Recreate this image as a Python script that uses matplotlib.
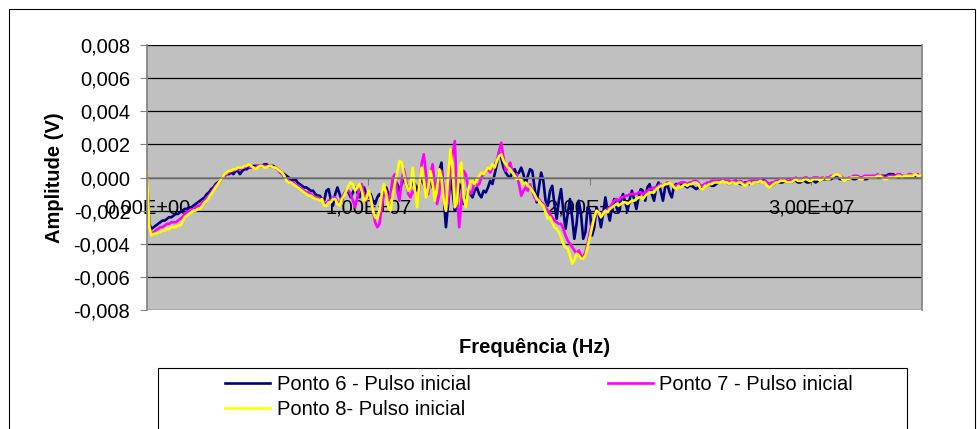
import numpy as np
import matplotlib
matplotlib.use("Agg")
import matplotlib.pyplot as plt
from matplotlib.patches import Rectangle
from matplotlib.ticker import FuncFormatter

plt.rcParams['font.family'] = ['Liberation Sans', 'DejaVu Sans']

# frequency grid: 0 .. 35 MHz, one sample every 0.1 MHz
freq_hz = np.arange(351) * 1e5

# amplitudes, in units of 0.1 mV (1e-4 V)
ponto6 = [
    0, -28, -31, -30, -29, -28, -27, -26, -26, -25,
    -24, -24, -23, -22, -22, -21, -20, -19, -19, -18,
    -18, -17, -16, -15, -14, -13, -12, -10, -9, -7,
    -6, -4, -3, -2, 0, 1, 2, 2, 3, 2,
    4, 4, 2, 4, 5, 5, 6, 6, 7, 7,
    7, 7, 7, 8, 8, 7, 7, 7, 6, 5,
    4, 3, 2, 1, 0, -1, -2, -1, -3, -4,
    -5, -6, -6, -7, -8, -8, -10, -11, -11, -13,
    -14, -8, -7, -13, -17, -10, -6, -10, -14, -10,
    -8, -9, -12, -9, -6, -9, -12, -8, -6, -10,
    -12, -10, -14, -16, -12, -10, -12, -8, -6, -10,
    -12, -6, -2, -4, -8, -4, 0, -4, -8, -6,
    -2, -4, -8, -4, 0, -4, -8, -4, -2, -6,
    -10, -4, 4, 9, -12, -30, -16, 0, -8, -20,
    -18, -4, -6, -16, -14, -8, -10, -12, -8, -6,
    -10, -12, -8, -9, -6, -2, -4, 2, 8, 15,
    12, 6, 3, 1, 0, 3, 5, 2, 3, 6,
    2, -4, 1, 5, 4, -6, -15, -6, 3, -2,
    -14, -17, -8, -5, -16, -25, -14, -7, -20, -31,
    -22, -13, -24, -37, -28, -14, -22, -37, -33, -18,
    -20, -35, -30, -18, -22, -30, -22, -12, -20, -26,
    -18, -13, -18, -21, -14, -10, -15, -20, -13, -8,
    -13, -19, -12, -7, -8, -14, -6, -4, -10, -14,
    -6, -3, -8, -14, -6, -4, -9, -12, -5, -4,
    -4, -5, -4, -5, -6, -5, -5, -6, -7, -6,
    -7, -5, -4, -5, -4, -5, -5, -4, -3, -2,
    -2, -2, -3, -4, -3, -3, -2, -3, -4, -4,
    -3, -3, -4, -3, -2, -3, -3, -2, -1, -2,
    -3, -4, -5, -4, -3, -3, -3, -3, -2, -3,
    -3, -3, -2, -2, -3, -3, -2, -2, -3, -3,
    -2, -2, -3, -2, -2, -1, -1, -1, -1, -1,
    0, 0, 0, -1, -1, -1, -1, -1, 0, -1,
    -1, 0, 0, 0, -1, -1, 0, 0, 0, 0,
    0, 0, 1, 1, 1, 2, 2, 2, 1, 0,
    0, 0, 1, 0, 0, 0, 0, 0, 1, 1,
    1,
]

ponto7 = [
    2, -30, -34, -33, -32, -31, -30, -30, -29, -28,
    -28, -27, -27, -27, -26, -25, -24, -22, -21, -20,
    -20, -19, -18, -17, -17, -15, -14, -12, -11, -9,
    -7, -5, -4, -2, 0, 1, 2, 3, 4, 4,
    5, 5, 5, 6, 6, 7, 7, 6, 6, 6,
    7, 7, 7, 7, 7, 7, 7, 6, 6, 5,
    3, 2, 0, -1, -2, -3, -3, -4, -5, -6,
    -7, -8, -9, -9, -10, -11, -12, -12, -13, -13,
    -15, -16, -14, -14, -12, -12, -15, -16, -12, -10,
    -8, -8, -10, -14, -18, -12, -5, -4, -10, -14,
    -10, -12, -20, -27, -30, -28, -18, -10, -8, -14,
    -10, 0, 2, -8, -14, -2, 5, -2, -10, -12,
    -8, -10, -15, -6, 8, 14, 2, -10, 2, 8,
    -4, -16, -10, 4, -6, -20, -14, 2, 14, 22,
    -10, -30, -14, 4, 2, -6, -10, -8, -2, -5,
    -4, 0, 2, 4, 5, 3, 6, 8, 10, 16,
    21, 12, 4, 6, 9, 4, 0, 2, -4, -11,
    -8, -6, -8, -4, -8, -12, -14, -13, -15, -16,
    -18, -20, -22, -24, -26, -27, -28, -28, -31, -35,
    -38, -40, -42, -44, -46, -44, -47, -48, -45, -40,
    -33, -28, -24, -22, -22, -23, -21, -20, -19, -18,
    -16, -14, -13, -14, -12, -12, -11, -11, -10, -10,
    -10, -10, -9, -9, -10, -9, -8, -7, -7, -6,
    -6, -5, -4, -5, -4, -3, -3, -4, -5, -5,
    -4, -3, -3, -3, -4, -3, -3, -2, -2, -3,
    -5, -5, -4, -3, -3, -2, -2, -2, -2, -2,
    -1, -2, -2, -2, -3, -2, -2, -3, -2, -3,
    -4, -3, -2, -2, -2, -2, -2, -1, -2, -2,
    -3, -4, -3, -3, -2, -2, -1, -1, -1, -2,
    -2, -1, -1, 0, -1, -1, -1, 0, 0, -1,
    -1, 0, 0, 0, -1, 0, 0, 0, 0, 1,
    1, 2, 2, 1, 0, -1, -1, 0, 0, 1,
    1, 1, 0, 0, 1, 1, 1, 1, 1, 1,
    2, 1, 1, 0, 0, 1, 1, 1, 1, 2,
    2, 1, 1, 1, 2, 2, 1, 2, 2, 1,
    2,
]

ponto8 = [
    3, -30, -35, -34, -34, -33, -33, -32, -32, -31,
    -31, -30, -30, -30, -29, -29, -27, -24, -23, -22,
    -21, -20, -20, -19, -19, -17, -15, -14, -12, -10,
    -8, -6, -4, -2, 0, 2, 3, 4, 4, 5,
    5, 6, 6, 6, 7, 7, 8, 7, 6, 5,
    6, 7, 7, 6, 6, 7, 7, 6, 6, 5,
    4, 3, 1, -2, -3, -3, -4, -5, -6, -7,
    -8, -9, -10, -11, -11, -12, -13, -13, -14, -13,
    -17, -17, -15, -15, -13, -13, -16, -17, -13, -11,
    -8, -5, -3, -4, -8, -6, -4, -8, -14, -13,
    -8, -12, -20, -24, -25, -20, -10, -4, -10, -18,
    -20, -10, -3, 3, 10, 9, 2, -4, -8, -6,
    6, -8, -18, -4, 6, -2, -12, -6, 4, -4,
    -14, -6, 5, 0, -14, -20, 0, 17, 5, -18,
    -15, 5, 9, -12, -18, -8, -3, -2, -4, -1,
    1, 3, 2, 4, 6, 5, 8, 6, 10, 13,
    14, 10, 8, 6, 5, 3, 1, -1, 0, -2,
    -4, -3, -5, -6, -8, -10, -13, -14, -16, -17,
    -21, -25, -24, -27, -30, -31, -33, -36, -40, -42,
    -43, -47, -52, -50, -46, -47, -49, -49, -47, -42,
    -36, -30, -24, -20, -21, -24, -22, -20, -21, -19,
    -18, -17, -16, -17, -16, -15, -15, -16, -15, -14,
    -14, -13, -12, -12, -13, -11, -10, -9, -9, -9,
    -7, -6, -5, -5, -4, -4, -3, -4, -6, -7,
    -5, -6, -5, -4, -5, -4, -4, -3, -3, -4,
    -7, -7, -5, -5, -4, -4, -3, -3, -3, -3,
    -2, -3, -3, -4, -3, -3, -4, -3, -3, -4,
    -5, -4, -3, -4, -3, -3, -3, -2, -3, -3,
    -5, -6, -5, -4, -3, -3, -2, -2, -2, -3,
    -3, -3, -2, -1, -2, -2, -2, -1, -1, -2,
    -2, -1, -1, -1, -2, -1, 0, -1, -1, 0,
    1, 2, 2, 1, -1, -2, -1, -1, 0, 0,
    0, 0, -1, -1, 0, 0, 0, 0, 0, 0,
    1, 1, 0, -1, -1, 0, 0, 0, 0, 1,
    1, 0, 1, 1, 1, 1, 1, 2, 1, 1,
    2,
]

series_names = ["Ponto 6 - Pulso inicial", "Ponto 7 - Pulso inicial", "Ponto 8- Pulso inicial"]
series_colors = ["#000080", "#FF00FF", "#FFFF00"]

xticks = [0, 1e7, 2e7, 3e7]
xtick_labels = ["0,00E+00", "1,00E+07", "2,00E+07", "3,00E+07"]
yticks = [-0.008, -0.006, -0.004, -0.002, 0.0, 0.002, 0.004, 0.006, 0.008]

W, H = 977, 429
fig = plt.figure(figsize=(W / 100, H / 100), dpi=100)
ax = fig.add_axes([147 / W, 1 - 310 / H, 775 / W, 265 / H])
ax.set_facecolor("#C0C0C0")

handles = []
for vals, name, col in zip([ponto6, ponto7, ponto8], series_names, series_colors):
    h, = ax.plot(freq_hz, np.array(vals) * 1e-4, color=col, lw=1.9, label=name)
    handles.append(h)

ax.set_xlim(0, 3.5e7)
ax.set_ylim(-0.008, 0.008)
ax.set_yticks(yticks)
ax.yaxis.set_major_formatter(FuncFormatter(lambda v, p: ("%.3f" % v).replace(".", ",").replace("-0,000", "0,000")))
ax.set_xticks(xticks)
ax.set_xticklabels(xtick_labels)

ax.set_axisbelow(True)
ax.yaxis.grid(True, color="black", lw=0.9)
ax.xaxis.grid(False)

ax.spines["bottom"].set_position(("data", 0))
for s in ["bottom", "left", "right"]:
    ax.spines[s].set_color("#808080")
    ax.spines[s].set_linewidth(1.2)
ax.spines["top"].set_visible(False)

ax.tick_params(axis="y", direction="out", length=5, color="#808080", labelsize=14.5, pad=7)
ax.tick_params(axis="x", direction="out", length=5, color="#808080", labelsize=14.5, pad=10)

ax.set_ylabel("Amplitude (V)", fontsize=14.5, fontweight="bold")
ax.yaxis.set_label_coords(-0.107, 0.5)
ax.set_xlabel("Frequência (Hz)", fontsize=14.5, fontweight="bold")
ax.xaxis.set_label_coords(0.5, -0.105)

# legend (row-wise order like the original)
order = [0, 2, 1]
leg = fig.legend([handles[i] for i in order], [series_names[i] for i in order],
                 ncol=2, loc="upper left", bbox_to_anchor=(225 / W, 1 - 375 / H),
                 frameon=False, fontsize=14.5, handlelength=2.24, handletextpad=0.33,
                 columnspacing=6.8, labelspacing=0.3, borderpad=0, borderaxespad=0)

# chart border and legend box
fig.patches.append(Rectangle((9 / W, -0.05), 966 / W, 1 - 9 / H + 0.05, transform=fig.transFigure,
                             fill=False, edgecolor="black", lw=0.8))
fig.patches.append(Rectangle((158 / W, -0.05), 749 / W, 1 - 368 / H + 0.05, transform=fig.transFigure,
                             fill=False, edgecolor="black", lw=0.8))

fig.savefig("out.png", dpi=100)
